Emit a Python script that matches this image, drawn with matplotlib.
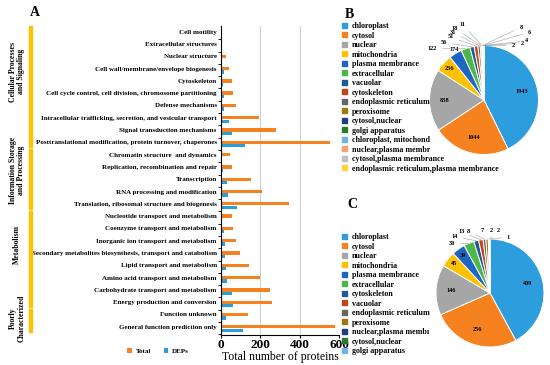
import numpy as np
import matplotlib.pyplot as plt
from matplotlib.patches import Patch, Rectangle
from matplotlib.transforms import blended_transform_factory

plt.rcParams['font.family'] = 'Liberation Serif'
plt.rcParams['font.weight'] = 'bold'

# ---- panel A data (COG categories, top to bottom) ----
categories = [
    "Cell motility", "Extracellular structures", "Nuclear structure",
    "Cell wall/membrane/envelope biogenesis", "Cytoskeleton",
    "Cell cycle control, cell division, chromosome partitioning",
    "Defense mechanisms",
    "Intracellular trafficking, secretion, and vesicular transport",
    "Signal transduction mechanisms",
    "Posttranslational modification, protein turnover, chaperones",
    "Chromatin structure  and dynamics", "Replication, recombination and repair",
    "Transcription", "RNA processing and modification",
    "Translation, ribosomal structure and biogenesis",
    "Nucleotide transport and metabolism", "Coenzyme transport and metabolism",
    "Inorganic ion transport and metabolism",
    "Secondary metabolites biosynthesis, transport and catabolism",
    "Lipid transport and metabolism", "Amino acid transport and metabolism",
    "Carbohydrate transport and metabolism", "Energy production and conversion",
    "Function unknown", "General function prediction only",
]
total = [2, 3, 25, 43, 58, 60, 75, 193, 278, 555, 45, 55, 153, 208, 345,
         58, 62, 75, 97, 140, 200, 247, 257, 138, 578]
deps = [0, 1, 1, 13, 10, 15, 15, 40, 55, 122, 7, 8, 30, 35, 83,
        5, 15, 18, 20, 27, 33, 55, 62, 23, 113]
group_names = ["Cellular Processes\nand Signaling", "Information Storage\nand Processing",
               "Metabolism", "Poorly\nCharacterized"]
group_ranges = [(0, 9), (10, 14), (15, 22), (23, 24)]

# ---- panel B data ----
loc_b = ["chloroplast", "cytosol", "nuclear", "mitochondria", "plasma membrance",
         "extracellular", "vacuolar", "cytoskeleton", "endoplasmic reticulum",
         "peroxisome", "cytosol,nuclear", "golgi apparatus", "chloroplast, mitochond",
         "nuclear,plasma membr", "cytosol,plasma membrance",
         "endoplasmic reticulum,plasma membrance"]
cnt_b = [1943, 1044, 838, 236, 174, 122, 56, 51, 31, 18, 11, 8, 6, 4, 2, 2]

# ---- panel C data ----
loc_c = ["chloroplast", "cytosol", "nuclear", "mitochondria", "plasma membrance",
         "extracellular", "cytoskeleton", "vacuolar", "endoplasmic reticulum",
         "peroxisome", "nuclear,plasma membı", "cytosol,nuclear", "golgi apparatus"]
cnt_c = [409, 256, 146, 45, 39, 30, 14, 13, 8, 7, 2, 2, 1]

palette = ['#2E9DDE', '#F5821F', '#A6A6A6', '#FFC000', '#1F66C2', '#4DB848',
           '#1F5A96', '#C0461A', '#666666', '#A07A10', '#1F3F7A', '#2D7A2D',
           '#6FB3E8', '#F7A070', '#BFBFBF', '#FFD23F']
orange = '#F5821F'
blue = '#2A9DDB'

W, H = 550, 365
fig = plt.figure(figsize=(5.5, 3.65), dpi=100)

def fr(x, y, w, h):
    return [x / W, 1 - (y + h) / H, w / W, h / H]

# ================= panel A =================
ax = fig.add_axes(fr(221, 26, 118, 309))
y = np.arange(len(categories))
ax.barh(y, total, height=0.27, color=orange, label='Total')
ax.barh(y + 0.28, deps, height=0.27, color=blue, label='DEPs')
ax.set_xlim(0, 600)
ax.set_ylim(len(categories) - 0.33, -0.46)
ax.set_xticks([0, 200, 400, 600])
ax.tick_params(axis='x', labelsize=9.5, length=2, pad=1)
ax.set_yticks(y)
ax.set_yticklabels(categories, fontsize=5.0)
ax.tick_params(axis='y', length=0, pad=3)
ax.set_yticks(y + 0.62, minor=True)
ax.tick_params(axis='y', which='minor', length=2, width=0.6)
ax.grid(axis='x', color='#D0D0D0', lw=0.8)
ax.set_axisbelow(True)
for s in ['top', 'right']:
    ax.spines[s].set_visible(False)
ax.spines['left'].set_linewidth(0.8)
ax.spines['bottom'].set_linewidth(0.8)
ax.set_xlabel("Total number of proteins", fontsize=8.5, labelpad=0)

ax.legend(loc='center', bbox_to_anchor=(158 / W, 1 - 351 / H), bbox_transform=fig.transFigure,
          ncol=2, frameon=False, fontsize=5, handlelength=0.7, handleheight=0.7,
          handletextpad=0.5, columnspacing=1.8)

# group bars and labels
tr = blended_transform_factory(fig.transFigure, ax.transData)
label_shift = [-1.2, -0.7, -1.2, -0.2]
for name, (a, b), sh in zip(group_names, group_ranges, label_shift):
    top = a - 0.45 if a > 0 else -0.46
    bot = b + 0.4
    ax.add_patch(Rectangle((29 / W, top), 3 / W, bot - top, transform=tr,
                           color='#FFC000', clip_on=False))
    ax.text(17 / W, (top + bot) / 2 + sh, name, transform=tr, rotation=90,
            ha='center', va='center', fontsize=5.6, linespacing=1.1)

fig.text(30 / W, 1 - 12 / H, "A", fontsize=10, ha='left', va='center')
fig.text(345 / W, 1 - 14 / H, "B", fontsize=10, ha='left', va='center')
fig.text(347 / W, 1 - 205 / H, "C", fontsize=10, ha='left', va='center')


def draw_pie(cx, cy, r, vals, names, n_inside, outer_pos, legend_xy):
    half = 80
    pax = fig.add_axes(fr(cx - half, cy - half, 2 * half, 2 * half))
    lim = half / r
    cols = palette[:len(vals)]
    wedges, _ = pax.pie(vals, colors=cols, startangle=90, counterclock=False,
                        wedgeprops=dict(edgecolor='white', linewidth=0.7))
    pax.set_xlim(-lim, lim)
    pax.set_ylim(-lim, lim)
    pax.set_aspect('equal')
    pax.axis('off')
    tot = float(sum(vals))
    cum = 0.0
    for i, v in enumerate(vals):
        mid = np.deg2rad(90 - 360 * (cum + v / 2) / tot)
        cum += v
        if i < n_inside:
            rr = 0.72 if i < 3 else 0.86
            pax.text(rr * np.cos(mid), rr * np.sin(mid), str(v), fontsize=4.5,
                     ha='center', va='center')
        else:
            ang, rad = outer_pos[i - n_inside]
            tx, ty = rad * np.cos(np.deg2rad(ang)), rad * np.sin(np.deg2rad(ang))
            pax.annotate(str(v), xy=(np.cos(mid), np.sin(mid)), xytext=(tx, ty),
                         fontsize=4.5, ha='center', va='center',
                         arrowprops=dict(arrowstyle='-', color='#A0A0A0', lw=0.4,
                                         shrinkA=2, shrinkB=0),
                         annotation_clip=False)
    handles = [Patch(color=c) for c in cols]
    fig.legend(handles, names, loc='upper left',
               bbox_to_anchor=(legend_xy[0] / W, 1 - legend_xy[1] / H),
               frameon=False, fontsize=5.7, handlelength=0.6, handleheight=0.6,
               handletextpad=0.6, labelspacing=0.19, borderpad=0, borderaxespad=0)


# label placement for the small slices (polar: angle in deg, radius)
outer_b = [(121, 1.08), (135, 1.34), (125, 1.29), (118, 1.31), (115, 1.37),
           (112, 1.42), (106, 1.45), (63, 1.5), (56, 1.5), (54, 1.34),
           (56, 1.26), (62, 1.13)]
outer_c = [(128, 1.16), (122, 1.23), (115, 1.25), (109, 1.21), (97, 1.16),
           (89, 1.15), (82, 1.16), (72, 1.09)]

draw_pie(484, 100, 54.5, cnt_b, loc_b, 4, outer_b, (342, 22))
draw_pie(490, 293, 54, cnt_c, loc_c, 5, outer_c, (342, 233))

fig.savefig("out.png", dpi=100)
